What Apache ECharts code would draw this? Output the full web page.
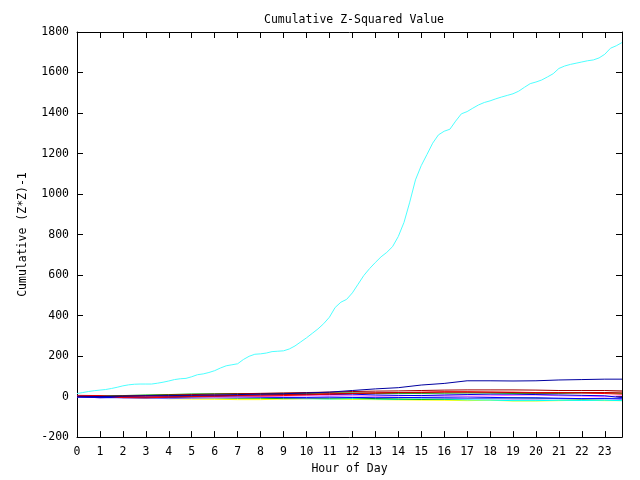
<!DOCTYPE html>
<html><head><meta charset="utf-8">
<script src="https://cdn.jsdelivr.net/npm/echarts@6/dist/echarts.min.js"></script>
<style>html,body{margin:0;padding:0;background:#fff}#c{width:640px;height:480px}</style>
</head><body><div id="c"></div>
<script>
// quarter-hour grid for the main series
const mainHours = [];
for (let i = 0; i < 96; i++) mainHours.push(i / 4);
const mainValues = [15,20,25,29,32,35,40,46,53,58,61,62,62,62,66,71,77,84,88,90,98,108,112,119,128,141,152,157,162,183,199,209,211,215,222,224,226,235,250,270,290,312,334,360,392,440,466,480,512,555,598,632,662,690,712,740,790,860,960,1070,1140,1195,1251,1292,1310,1320,1360,1396,1407,1424,1440,1452,1460,1470,1479,1487,1495,1508,1527,1545,1553,1563,1578,1594,1620,1632,1640,1646,1652,1658,1662,1672,1690,1720,1732,1748];

// hourly grid for the small series
const hourly = [0,1,2,3,4,5,6,7,8,9,10,11,12,13,14,15,16,17,18,19,20,21,22,23,23.75];
const navy     = [2,0,2,4,5,6,8,10,12,14,18,22,30,38,44,57,65,78,78,77,78,82,84,86,86];
const darkRed  = [0,2,3,5,8,10,12,14,16,18,20,22,25,27,28,30,32,33,33,33,32,30,30,30,28];
const darkRed2 = [0,0,1,2,2,3,4,6,8,10,12,14,16,18,20,20,22,22,22,20,18,18,20,20,22];
const red      = [6,5,-5,-6,-3,0,2,4,3,5,8,12,15,18,20,22,24,24,22,22,20,20,18,15,12];
const green    = [2,3,5,8,10,13,14,15,15,16,16,18,18,16,16,16,17,18,18,16,16,16,18,18,16];
const blue     = [0,-6,-4,-4,-2,2,4,6,8,10,10,10,12,8,6,5,8,10,12,12,10,8,6,4,-5];
const pink     = [2,3,4,3,0,-2,-3,-2,0,2,4,4,5,2,4,6,4,2,4,6,8,4,2,0,4];
const slate    = [-2,-3,-5,-8,-10,-8,-6,-6,-4,-6,-8,-6,-4,-2,-4,-6,-8,-10,-10,-12,-12,-10,-10,-8,-10];
const green2   = [0,-2,-4,-6,-4,-5,-6,-8,-8,-10,-10,-8,-6,-10,-12,-14,-12,-10,-8,-6,-8,-10,-12,-10,-8];
const blue2    = [-3,-4,-6,-5,-3,-2,0,-1,-2,-4,-4,-2,-4,-6,-5,-4,-3,-2,-4,-6,-6,-8,-10,-10,-12];
const cyan2    = [0,-2,-3,-5,-6,-4,-2,0,-2,-6,-10,-12,-10,-12,-14,-12,-14,-16,-17,-20,-20,-18,-19,-18,-20];
const yellow   = [0,-2,-4,-6,-10,-12,-13,-15,-15,-12,-10,-12,-14,-15,-16,-17,-18,-20,-18,-22,-22,-20,-18,-20,-20];

const titleText = 'Cumulative Z-Squared Value';
const xName = 'Hour of Day';
const yName = 'Cumulative (Z*Z)-1';

const FONT = 'DejaVu Sans Mono';
function pairs(xs, ys){ return xs.map((x,i)=>[x, ys[i]]); }
function mk(ys, color, xs){ return {type:'line', data:pairs(xs||hourly, ys), showSymbol:false, symbol:'none', lineStyle:{color:color,width:1}, itemStyle:{color:color}, animation:false}; }

const small = [
  [yellow,'#ffff00'],[cyan2,'#00ffff'],[green2,'#00b000'],[slate,'#7070ff'],[blue2,'#0000ff'],
  [pink,'#ff66ff'],[blue,'#0000e0'],[green,'#00a000'],[red,'#ff0000'],[darkRed2,'#c00000'],[darkRed,'#a00000'],[navy,'#0000a0']
];
const series = small.map(s=>mk(s[0], s[1]));
series.push(mk(mainValues, '#4dffff', mainHours));

const axLine = {show:true, onZero:false, lineStyle:{color:'#000', width:1}};
const tick = {show:true, inside:true, length:6, lineStyle:{color:'#000'}};
const chart = echarts.init(document.getElementById('c'), null, {renderer:'canvas'});
chart.setOption({
  animation:false,
  backgroundColor:'#fff',
  title:{text:titleText, left:259, top:9, textStyle:{fontFamily:FONT, fontSize:11.5, fontWeight:'normal', color:'#000'}},
  grid:{left:77, right:18, top:32, bottom:36},
  xAxis:[
    {type:'value', position:'bottom', min:0, max:23.75, interval:1, axisLine:axLine,
     axisTick:tick, splitLine:{show:false},
     axisLabel:{fontFamily:FONT, fontSize:11.5, color:'#000', margin:9, formatter:v=>Number.isInteger(v)?String(v):''},
     name:xName, nameLocation:'middle', nameGap:23, nameTextStyle:{fontFamily:FONT, fontSize:11.5, color:'#000'}},
    {type:'value', position:'top', min:0, max:23.75, interval:1, axisLine:axLine,
     axisTick:tick, splitLine:{show:false}, axisLabel:{show:false}}
  ],
  yAxis:[
    {type:'value', position:'left', min:-200, max:1800, interval:200, axisLine:axLine,
     axisTick:tick, splitLine:{show:false},
     axisLabel:{fontFamily:FONT, fontSize:11.5, color:'#000', margin:8, formatter:v=>String(v)},
     name:yName, nameLocation:'middle', nameGap:48, nameRotate:90, nameTextStyle:{fontFamily:FONT, fontSize:11.5, color:'#000'}},
    {type:'value', position:'right', min:-200, max:1800, interval:200, axisLine:axLine,
     axisTick:tick, splitLine:{show:false}, axisLabel:{show:false}}
  ],
  series:series
});
</script></body></html>
